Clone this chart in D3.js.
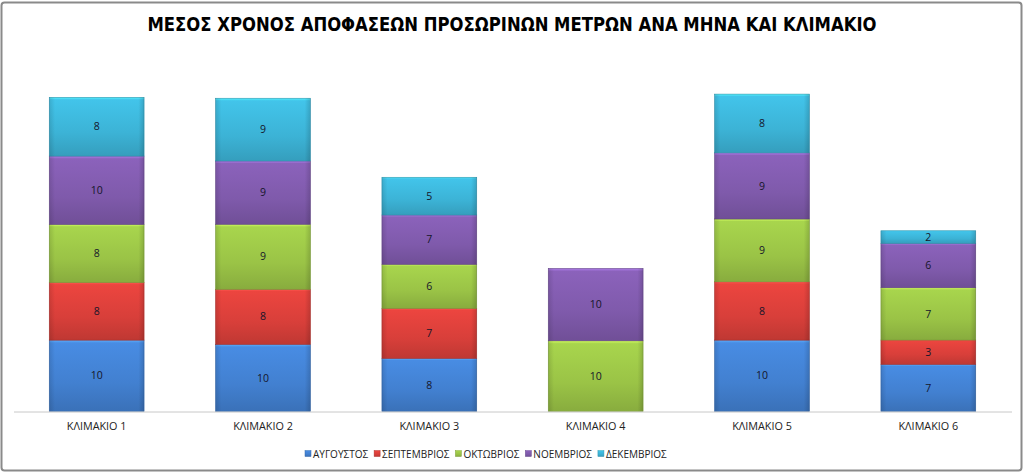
<!DOCTYPE html>
<html>
<head>
<meta charset="utf-8">
<script src="https://cdnjs.cloudflare.com/ajax/libs/d3/7.8.5/d3.min.js"></script>
<style>
  body { margin: 0; background: #fff; }
  svg { display: block; }
  .title { font-family: "Liberation Sans Narrow", "DejaVu Sans Condensed", sans-serif; font-weight: bold; font-size: 19px; fill: #000; }
  .cat { font-family: "Open Sans", "Liberation Sans", sans-serif; font-size: 10.8px; fill: #222; }
  .legend text { font-family: "Open Sans", "Liberation Sans", sans-serif; font-size: 10px; fill: #222; }
  .lbl { font-family: "Open Sans", "Liberation Sans", sans-serif; font-size: 10.5px; fill: #15152a; }
</style>
</head>
<body>
<div id="stacked-bar"></div>
<script>
// data (labels in the original are rounded)
var categories = ["ΚΛΙΜΑΚΙΟ 1", "ΚΛΙΜΑΚΙΟ 2", "ΚΛΙΜΑΚΙΟ 3", "ΚΛΙΜΑΚΙΟ 4", "ΚΛΙΜΑΚΙΟ 5", "ΚΛΙΜΑΚΙΟ 6"];
var seriesNames = ["ΑΥΓΟΥΣΤΟΣ", "ΣΕΠΤΕΜΒΡΙΟΣ", "ΟΚΤΩΒΡΙΟΣ", "ΝΟΕΜΒΡΙΟΣ", "ΔΕΚΕΜΒΡΙΟΣ"];
var avgoustos   = [10.2, 9.6, 7.6, 0,     10.2, 6.74];
var septemvrios = [8.24, 7.86, 7.14, 0,   8.33, 3.47];
var oktovrios   = [8.29, 9.29, 6.29, 10.1, 8.97, 7.47];
var noemvrios   = [9.76, 9.04, 7.04, 10.34, 9.45, 6.34];
var dekemvrios  = [8.39, 8.96, 5.39, 0,   8.39, 1.8];
var yMax = 50;

var colors = ["#4280d0", "#d83f3a", "#9ac346", "#7f5aab", "#3cb3d6"];

var W = 1024, H = 472;

var rows = categories.map(function(c, i) {
  return { cat: c, s0: avgoustos[i], s1: septemvrios[i], s2: oktovrios[i], s3: noemvrios[i], s4: dekemvrios[i] };
});
var keys = ["s0", "s1", "s2", "s3", "s4"];

var svg = d3.select("#stacked-bar").append("svg")
  .attr("width", W)
  .attr("height", H);

// gradients, rough imitation of the office bevel look
var defs = svg.append("defs");
colors.forEach(function(c, i) {
  var base = d3.color(c);
  var g = defs.append("linearGradient")
    .attr("id", "grad" + i)
    .attr("x1", 0).attr("y1", 0).attr("x2", 0).attr("y2", 1);
  g.append("stop").attr("offset", "0%").attr("stop-color", base.brighter(0.9));
  g.append("stop").attr("offset", "4%").attr("stop-color", base.brighter(0.25));
  g.append("stop").attr("offset", "60%").attr("stop-color", base);
  g.append("stop").attr("offset", "100%").attr("stop-color", base.darker(0.35));
  var h = defs.append("linearGradient")
    .attr("id", "side" + i)
    .attr("x1", 0).attr("y1", 0).attr("x2", 1).attr("y2", 0);
  h.append("stop").attr("offset", "0%").attr("stop-color", "#000").attr("stop-opacity", 0.12);
  h.append("stop").attr("offset", "6%").attr("stop-color", "#000").attr("stop-opacity", 0);
  h.append("stop").attr("offset", "94%").attr("stop-color", "#000").attr("stop-opacity", 0);
  h.append("stop").attr("offset", "100%").attr("stop-color", "#000").attr("stop-opacity", 0.15);
});

// chart frame
svg.append("rect")
  .attr("x", 1.5).attr("y", 2.5)
  .attr("width", W - 4).attr("height", H - 4)
  .attr("rx", 3)
  .attr("fill", "#fff")
  .attr("stroke", "#8a8a8a")
  .attr("stroke-width", 2);

svg.append("text")
  .attr("class", "title")
  .attr("x", 512)
  .attr("y", 31)
  .attr("text-anchor", "middle")
  .attr("textLength", 729)
  .attr("lengthAdjust", "spacingAndGlyphs")
  .text("ΜΕΣΟΣ ΧΡΟΝΟΣ ΑΠΟΦΑΣΕΩΝ ΠΡΟΣΩΡΙΝΩΝ ΜΕΤΡΩΝ ΑΝΑ ΜΗΝΑ ΚΑΙ ΚΛΙΜΑΚΙΟ");

var xScale = d3.scaleBand()
  .domain(categories)
  .range([13.5, 1011.5])
  .paddingInner(0.43)
  .paddingOuter(0.215);

var yScale = d3.scaleLinear()
  .domain([0, yMax])
  .range([411.5, 61.5]);

var stack = d3.stack().keys(keys);
var layers = stack(rows);

var layer = svg.selectAll(".layer")
  .data(layers)
  .enter().append("g")
  .attr("class", "layer");

layer.selectAll("rect.bar")
  .data(function(d) { return d.filter(function(p) { return p[1] - p[0] > 0; }); })
  .enter().append("rect")
  .attr("class", "bar")
  .attr("x", function(d) { return xScale(d.data.cat); })
  .attr("y", function(d) { return yScale(d[1]); })
  .attr("width", xScale.bandwidth())
  .attr("height", function(d) { return yScale(d[0]) - yScale(d[1]); })
  .attr("fill", function() { return "url(#grad" + d3.select(this.parentNode).datum().index + ")"; })
  .attr("stroke", function() { return d3.color(colors[d3.select(this.parentNode).datum().index]).darker(0.6); })
  .attr("stroke-width", 0.6);

layer.selectAll("rect.side")
  .data(function(d) { return d.filter(function(p) { return p[1] - p[0] > 0; }); })
  .enter().append("rect")
  .attr("class", "side")
  .attr("x", function(d) { return xScale(d.data.cat); })
  .attr("y", function(d) { return yScale(d[1]); })
  .attr("width", xScale.bandwidth())
  .attr("height", function(d) { return yScale(d[0]) - yScale(d[1]); })
  .attr("fill", function() { return "url(#side" + d3.select(this.parentNode).datum().index + ")"; });

layer.selectAll("text.lbl")
  .data(function(d) { return d.filter(function(p) { return p[1] - p[0] > 0; }); })
  .enter().append("text")
  .attr("class", "lbl")
  .attr("x", function(d) { return xScale(d.data.cat) + xScale.bandwidth() / 2; })
  .attr("y", function(d) { return (yScale(d[0]) + yScale(d[1])) / 2; })
  .attr("dy", "0.35em")
  .attr("text-anchor", "middle")
  .text(function(d) { return Math.round(d[1] - d[0]); });

// x axis: just the base line and the category names
var xAxis = d3.axisBottom(xScale).tickSize(0).tickPadding(11);
var gx = svg.append("g")
  .attr("transform", "translate(0," + yScale(0) + ")")
  .call(xAxis);
gx.select(".domain").attr("stroke", "#c8c8c8").attr("stroke-width", 1);
gx.selectAll("text").attr("class", "cat").attr("font-family", null).attr("font-size", null).attr("fill", null);

// legend, spread over the same width as in the original
var legendLeft = 305, legendRight = 667;
var legend = svg.append("g").attr("class", "legend");
var items = legend.selectAll("g")
  .data(seriesNames)
  .enter().append("g");
items.append("rect")
  .attr("width", 6).attr("height", 6)
  .attr("y", -3.5)
  .attr("fill", function(d, i) { return "url(#grad" + i + ")"; })
  .attr("stroke", function(d, i) { return d3.color(colors[i]).darker(0.6); })
  .attr("stroke-width", 0.5);
items.append("text")
  .attr("x", 8)
  .attr("dy", "0.35em")
  .text(function(d) { return d; });
var widths = [];
items.each(function() { widths.push(this.getBBox().width); });
var gap = (legendRight - legendLeft - d3.sum(widths)) / (widths.length - 1);
var lx = legendLeft;
items.each(function(d, i) {
  d3.select(this).attr("transform", "translate(" + lx + ",0)");
  lx += widths[i] + gap;
});
legend.attr("transform", "translate(0,454)");
</script>
</body>
</html>
